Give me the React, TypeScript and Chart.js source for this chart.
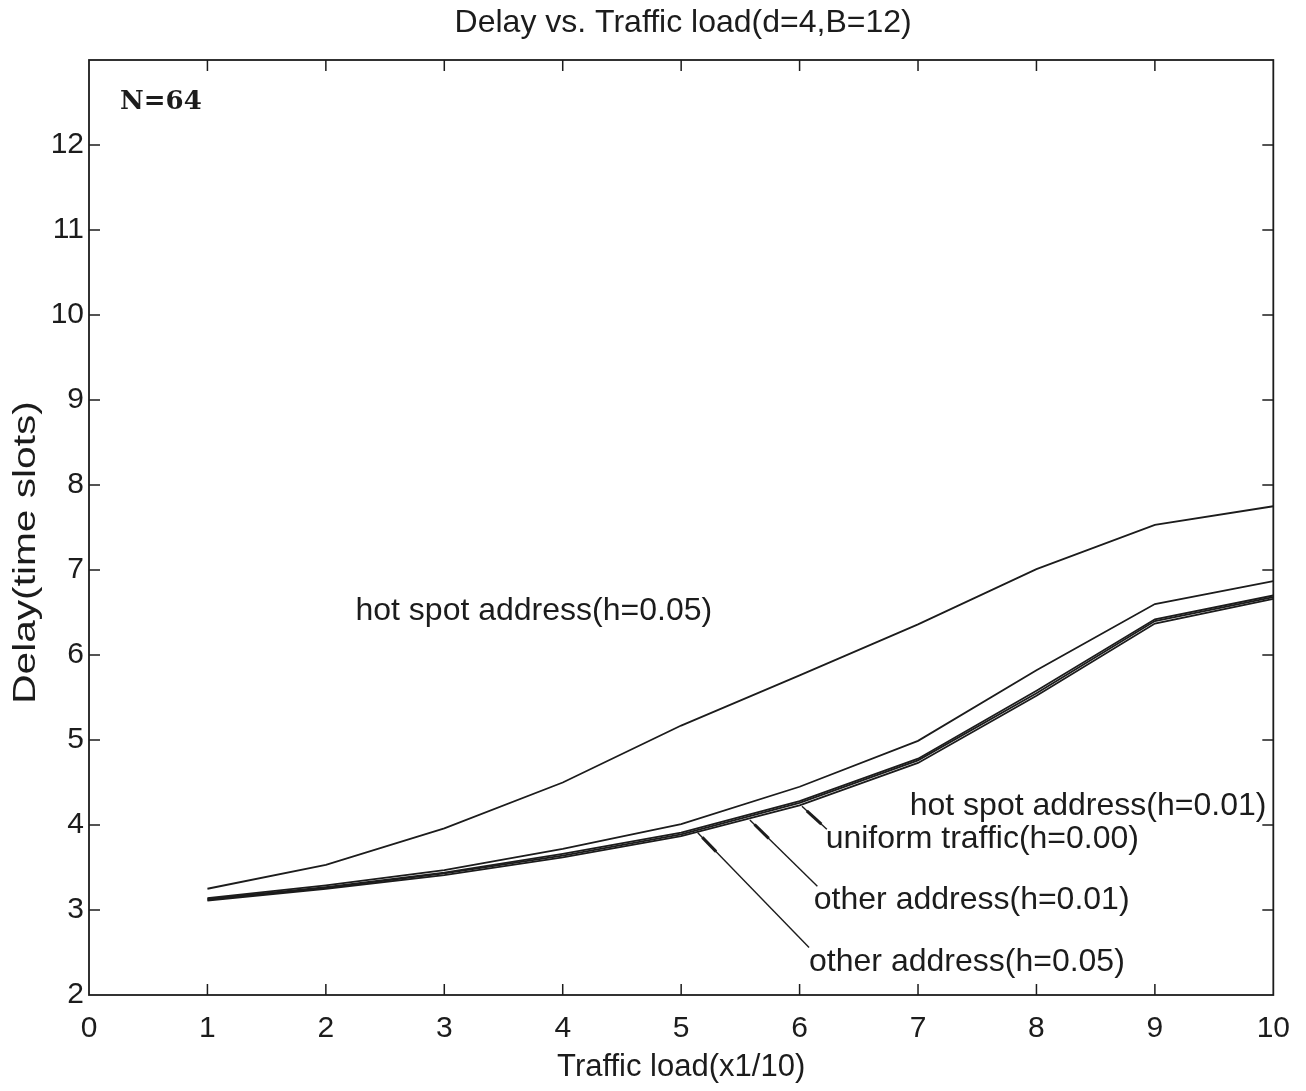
import React, { useEffect, useRef } from "react";
import { Chart, registerables } from "chart.js";

Chart.register(...registerables);

// Traffic load values (x1/10)
const loads = [1, 2, 3, 4, 5, 6, 7, 8, 9, 10];

// Mean delay in time slots for each traffic pattern
const hotSpot05 = [3.25, 3.53, 3.96, 4.5, 5.17, 5.76, 6.36, 7.01, 7.53, 7.75];
const hotSpot01 = [3.14, 3.29, 3.47, 3.72, 4.01, 4.45, 4.99, 5.82, 6.6, 6.87];
const uniform00 = [3.13, 3.27, 3.44, 3.66, 3.91, 4.28, 4.78, 5.58, 6.42, 6.7];
const other01 = [3.12, 3.26, 3.43, 3.64, 3.89, 4.26, 4.76, 5.55, 6.4, 6.68];
const other05 = [3.11, 3.25, 3.41, 3.62, 3.87, 4.23, 4.73, 5.52, 6.37, 6.66];

const xTicks = [0, 1, 2, 3, 4, 5, 6, 7, 8, 9, 10];
const yTicks = [2, 3, 4, 5, 6, 7, 8, 9, 10, 11, 12];

// Curve labels placed in data coordinates
const curveLabels = [
  { text: "hot spot address(h=0.05)", x: 2.25, y: 6.52 },
  { text: "hot spot address(h=0.01)", x: 6.93, y: 4.22 },
  { text: "uniform traffic(h=0.00)", x: 6.22, y: 3.83 },
  { text: "other address(h=0.01)", x: 6.12, y: 3.12 },
  { text: "other address(h=0.05)", x: 6.08, y: 2.39 },
];

// Leader lines from curve to label: [curveX, curveY, labelX, labelY]
const leaders = [
  [6.02, 4.22, 6.23, 3.95],
  [5.58, 4.06, 6.15, 3.28],
  [5.14, 3.91, 6.08, 2.56],
];

const TITLE = "Delay vs. Traffic load(d=4,B=12)";
const INK = "#1c1c1c";
const SANS = "'Liberation Sans', Arial, sans-serif";

const framePlugin = {
  id: "frameAndNotes",
  afterDatasetsDraw(chart: any) {
    const { ctx, chartArea, scales } = chart;
    const { left, right, top, bottom } = chartArea;
    const xs = scales.x;
    const ys = scales.y;
    ctx.save();
    ctx.strokeStyle = INK;
    ctx.lineWidth = 1.8;
    ctx.strokeRect(left, top, right - left, bottom - top);
    const tl = 11;
    ctx.lineWidth = 1.5;
    ctx.beginPath();
    for (const v of xTicks) {
      if (v <= xs.min || v >= xs.max) continue;
      const px = xs.getPixelForValue(v);
      ctx.moveTo(px, bottom);
      ctx.lineTo(px, bottom - tl);
      ctx.moveTo(px, top);
      ctx.lineTo(px, top + tl);
    }
    for (const v of yTicks) {
      if (v <= ys.min || v >= ys.max) continue;
      const py = ys.getPixelForValue(v);
      ctx.moveTo(left, py);
      ctx.lineTo(left + tl, py);
      ctx.moveTo(right, py);
      ctx.lineTo(right - tl, py);
    }
    ctx.stroke();

    // leader lines, with a heavier stub next to the curve
    for (const [cx, cy, lx, ly] of leaders) {
      const x0 = xs.getPixelForValue(cx);
      const y0 = ys.getPixelForValue(cy);
      const x1 = xs.getPixelForValue(lx);
      const y1 = ys.getPixelForValue(ly);
      ctx.lineWidth = 1.4;
      ctx.beginPath();
      ctx.moveTo(x0, y0);
      ctx.lineTo(x1, y1);
      ctx.stroke();
      const f = 22 / Math.hypot(x1 - x0, y1 - y0);
      ctx.lineWidth = 3;
      ctx.beginPath();
      ctx.moveTo(x0 + (x1 - x0) * f * 0.3, y0 + (y1 - y0) * f * 0.3);
      ctx.lineTo(x0 + (x1 - x0) * f * 1.2, y0 + (y1 - y0) * f * 1.2);
      ctx.stroke();
    }

    ctx.fillStyle = INK;
    ctx.font = `32px ${SANS}`;
    ctx.textAlign = "left";
    ctx.textBaseline = "middle";
    for (const l of curveLabels) {
      ctx.fillText(l.text, xs.getPixelForValue(l.x), ys.getPixelForValue(l.y));
    }

    // chart title centred over the plot frame
    ctx.textAlign = "center";
    ctx.fillText(TITLE, (left + right) / 2 + 2, 23);

    ctx.textAlign = "left";
    ctx.font = `bold 26px 'DejaVu Serif', 'Liberation Serif', serif`;
    ctx.fillText("N=64", left + 31, top + 42);

    // vertical axis title, widened along its run
    ctx.save();
    ctx.translate(26, (top + bottom) / 2 + 25);
    ctx.rotate(-Math.PI / 2);
    ctx.scale(1.27, 1);
    ctx.font = `32px ${SANS}`;
    ctx.textAlign = "center";
    ctx.fillText("Delay(time slots)", 0, 0);
    ctx.restore();

    ctx.restore();
  },
};

export default function App() {
  const canvasRef = useRef<HTMLCanvasElement | null>(null);

  useEffect(() => {
    if (!canvasRef.current) return;
    const mk = (label: string, data: number[]) => ({
      label,
      data: loads.map((x, i) => ({ x, y: data[i] })),
      borderColor: INK,
      borderWidth: 1.8,
      pointRadius: 0,
      tension: 0,
      fill: false,
    });
    const chart = new Chart(canvasRef.current, {
      type: "line",
      data: {
        datasets: [
          mk("hot spot address(h=0.05)", hotSpot05),
          mk("hot spot address(h=0.01)", hotSpot01),
          mk("uniform traffic(h=0.00)", uniform00),
          mk("other address(h=0.01)", other01),
          mk("other address(h=0.05)", other05),
        ],
      },
      options: {
        animation: false,
        responsive: false,
        maintainAspectRatio: false,
        layout: { padding: { left: 0, right: 31, top: 60, bottom: 0 } },
        plugins: {
          legend: { display: false },
          tooltip: { enabled: false },
          title: { display: false },
        },
        scales: {
          x: {
            type: "linear",
            min: 0,
            max: 10,
            afterFit: (s: any) => {
              s.height = 96;
            },
            afterBuildTicks: (s: any) => {
              s.ticks = xTicks.map((v) => ({ value: v }));
            },
            grid: { display: false, drawTicks: false },
            border: { display: false },
            ticks: {
              color: INK,
              font: { family: SANS, size: 30 },
              padding: 16,
              maxRotation: 0,
              autoSkip: false,
            },
            title: {
              display: true,
              text: "Traffic load(x1/10)",
              color: INK,
              font: { family: SANS, size: 31 },
              padding: { top: 0, bottom: 5 },
            },
          },
          y: {
            type: "linear",
            min: 2,
            max: 13,
            afterFit: (s: any) => {
              s.width = 89;
            },
            afterBuildTicks: (s: any) => {
              s.ticks = yTicks.map((v) => ({ value: v }));
            },
            grid: { display: false, drawTicks: false },
            border: { display: false },
            ticks: {
              color: INK,
              font: { family: SANS, size: 30 },
              padding: 5,
              autoSkip: false,
            },
          },
        },
      },
      plugins: [framePlugin],
    });
    return () => chart.destroy();
  }, []);

  return (
    <div
      style={{
        position: "absolute",
        left: 0,
        top: 0,
        width: 1306,
        height: 1091,
        background: "#ffffff",
      }}
    >
      <canvas ref={canvasRef} width={1306} height={1091} />
    </div>
  );
}
